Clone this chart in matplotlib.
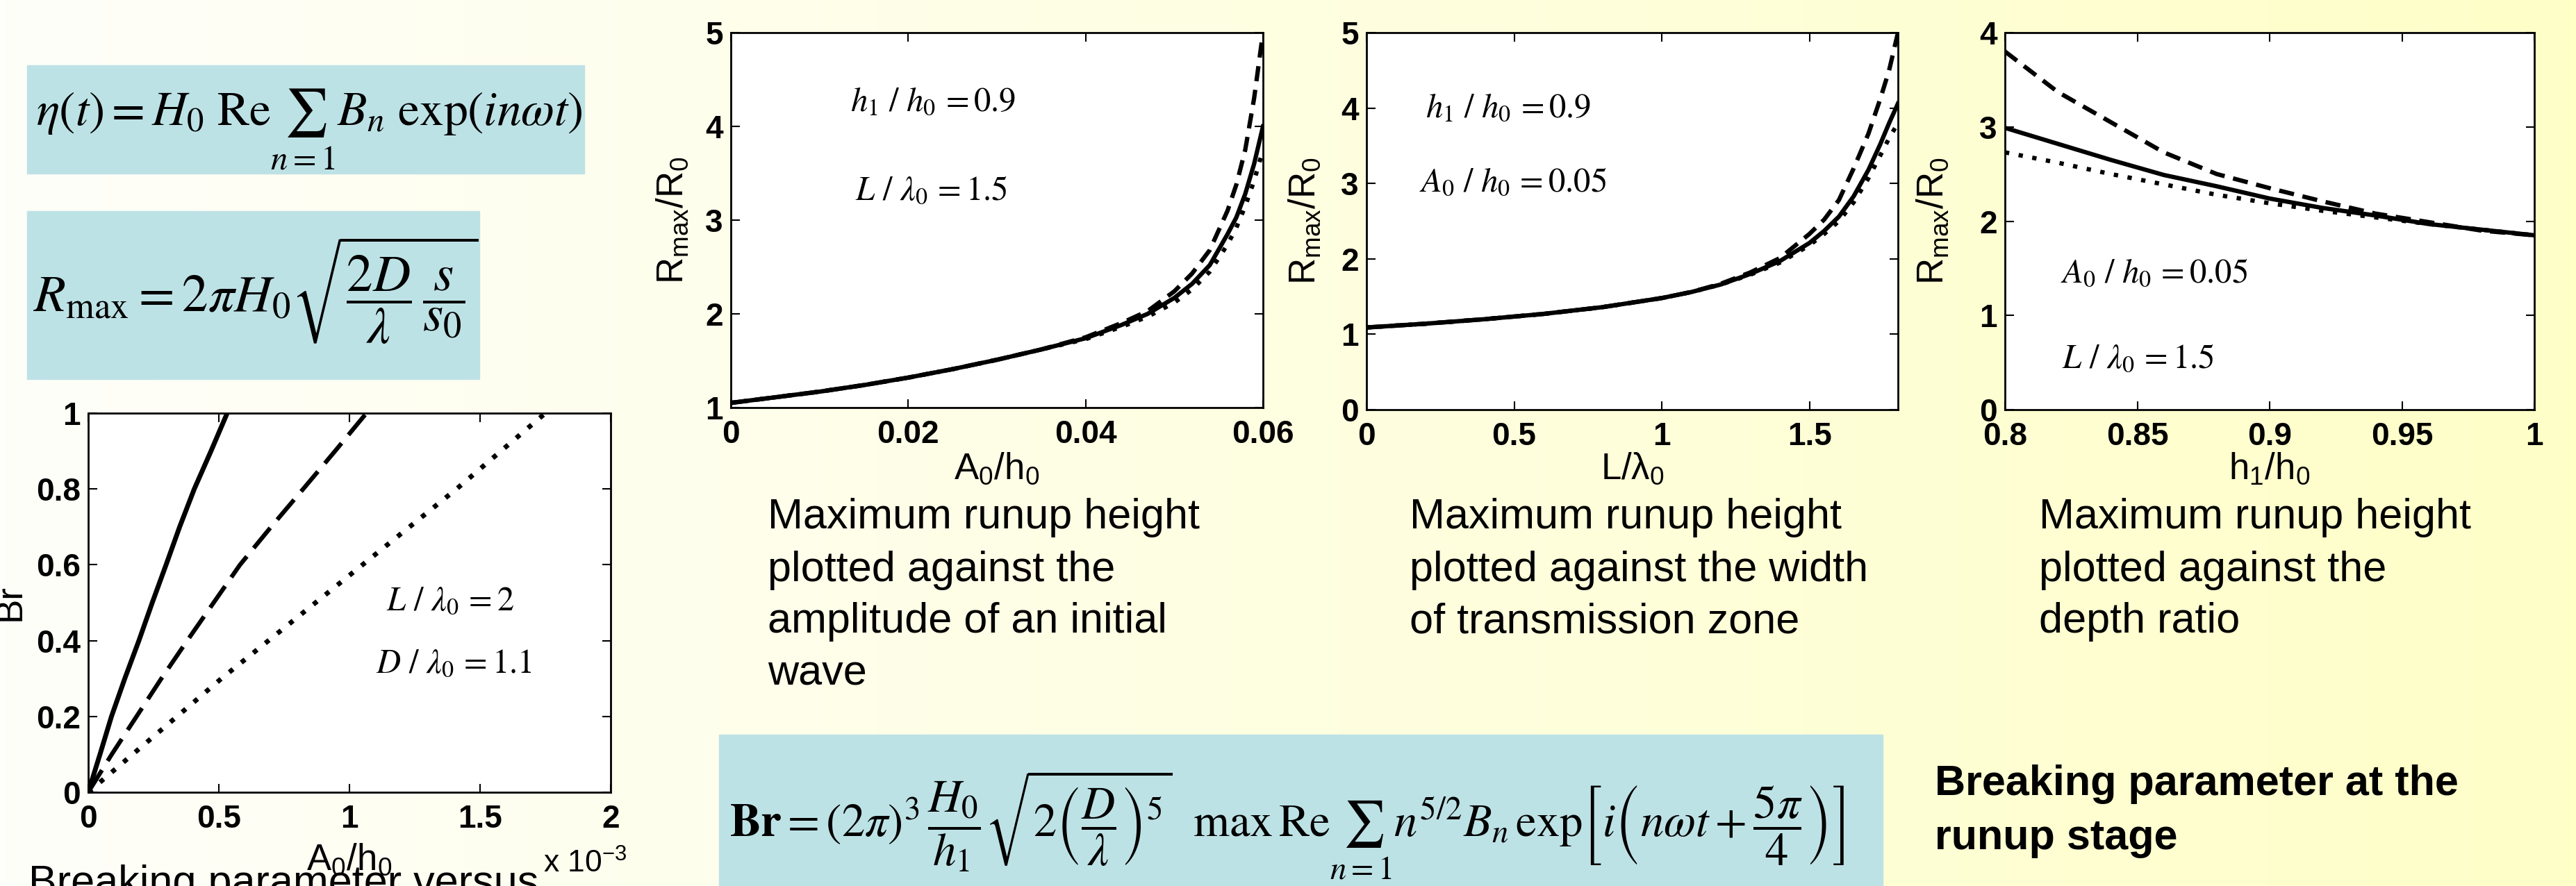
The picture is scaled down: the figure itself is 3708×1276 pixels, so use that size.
import numpy as np
import matplotlib
matplotlib.use("Agg")
import matplotlib.pyplot as plt
from matplotlib.patches import Rectangle

# Slide size in pixels (figure drawn at dpi 100)
W, H = 3708, 1276

plt.rcParams["font.family"] = ["Liberation Sans", "DejaVu Sans"]
plt.rcParams["mathtext.fontset"] = "stix"
plt.rcParams["mathtext.default"] = "regular"

# ---- data ----
# Br against A0/h0 (x in units of 1e-3)
br_y = [0, 0.1, 0.2, 0.3, 0.4, 0.5, 0.6, 0.7, 0.8, 0.9, 1.0]
br_solid_x = [0, 0.045, 0.089, 0.14, 0.194, 0.245, 0.298, 0.35, 0.406, 0.47, 0.532]
br_dash_x = [0, 0.09, 0.185, 0.28, 0.379, 0.48, 0.581, 0.70, 0.823, 0.945, 1.065]
br_dot_x = [0, 0.17, 0.34, 0.51, 0.69, 0.87, 1.05, 1.23, 1.41, 1.58, 1.75]

# Rmax/R0 against A0/h0
amp_x = [0, 0.005, 0.01, 0.015, 0.02, 0.025, 0.03, 0.035, 0.04, 0.044,
         0.047, 0.05, 0.052, 0.054, 0.056, 0.057, 0.058, 0.059, 0.06]
amp_solid = [1.05, 1.11, 1.17, 1.24, 1.32, 1.41, 1.51, 1.62, 1.74, 1.88,
             2.00, 2.17, 2.32, 2.52, 2.85, 3.03, 3.28, 3.60, 4.00]
amp_dash = [1.05, 1.11, 1.17, 1.24, 1.32, 1.41, 1.51, 1.62, 1.75, 1.90,
            2.03, 2.24, 2.43, 2.68, 3.10, 3.38, 3.75, 4.30, 5.00]
amp_dot = [1.05, 1.11, 1.17, 1.24, 1.32, 1.41, 1.51, 1.62, 1.73, 1.86,
           1.97, 2.12, 2.26, 2.45, 2.74, 2.92, 3.15, 3.42, 3.75]

# Rmax/R0 against L/lambda0
wid_x = [0, 0.2, 0.4, 0.6, 0.8, 1.0, 1.1, 1.2, 1.3, 1.4, 1.5, 1.55, 1.6,
         1.65, 1.7, 1.74, 1.77, 1.8]
wid_solid = [1.09, 1.14, 1.20, 1.27, 1.36, 1.48, 1.56, 1.66, 1.80, 1.97,
             2.21, 2.37, 2.56, 2.83, 3.18, 3.52, 3.80, 4.06]
wid_dash = [1.09, 1.14, 1.20, 1.27, 1.36, 1.48, 1.56, 1.67, 1.82, 2.01,
            2.33, 2.52, 2.78, 3.20, 3.66, 4.12, 4.50, 5.00]
wid_dot = [1.09, 1.14, 1.20, 1.27, 1.36, 1.48, 1.56, 1.66, 1.79, 1.95,
           2.18, 2.33, 2.50, 2.75, 3.07, 3.37, 3.60, 3.80]

# Rmax/R0 against h1/h0
dep_x = [0.8, 0.82, 0.84, 0.86, 0.88, 0.9, 0.92, 0.94, 0.96, 0.98, 1.0]
dep_solid = [2.99, 2.82, 2.65, 2.49, 2.37, 2.24, 2.14, 2.06, 1.97, 1.91, 1.85]
dep_dash = [3.80, 3.37, 3.05, 2.73, 2.50, 2.35, 2.21, 2.08, 1.99, 1.90, 1.85]
dep_dot = [2.73, 2.62, 2.50, 2.39, 2.28, 2.19, 2.11, 2.04, 1.97, 1.91, 1.85]

# tick labels
br_xt = ["0", "0.5", "1", "1.5", "2"]
br_yt = ["0", "0.2", "0.4", "0.6", "0.8", "1"]
amp_xt = ["0", "0.02", "0.04", "0.06"]
wid_xt = ["0", "0.5", "1", "1.5"]
dep_xt = ["0.8", "0.85", "0.9", "0.95", "1"]

captions = {
    "amp": ["Maximum runup height", "plotted against the",
            "amplitude of an initial", "wave"],
    "wid": ["Maximum runup height", "plotted against the width",
            "of transmission zone"],
    "dep": ["Maximum runup height", "plotted against the", "depth ratio"],
}


fig = plt.figure(figsize=(W / 100, H / 100), dpi=100)

# background: white to pale yellow gradient, in pixel coordinates
bg = fig.add_axes([0, 0, 1, 1], zorder=-5)
g = np.linspace(0, 1, 400)[None, :, None]
left = np.array([254, 254, 250]) / 255
right = np.array([255, 255, 200]) / 255
bg.imshow(left + (right - left) * g, aspect="auto", extent=[0, W, H, 0])
bg.set_xlim(0, W)
bg.set_ylim(H, 0)
bg.axis("off")

box_col = "#bde2e6"
bg.add_patch(Rectangle((39, 94), 802, 156, color=box_col))
bg.add_patch(Rectangle((39, 304), 651, 242, color=box_col))
bg.add_patch(Rectangle((1035, 1058), 1675, 230, color=box_col))

serif = "STIXGeneral"
bg.text(52, 180, r"$\mathit{\eta}(\mathit{t}) = \mathit{H}_0\ \mathrm{Re}\sum_{\mathit{n}=1}"
        r"\mathit{B}_\mathit{n}\ \mathrm{exp}(\mathit{in\omega t})$",
        fontsize=50, family=serif, va="baseline")
bg.text(48, 448, r"$\mathit{R}_{max} = 2\mathit{\pi H}_0"
        r"\sqrt{\dfrac{2\mathit{D}}{\mathit{\lambda}}\,\dfrac{\mathit{s}}{\mathit{s}_0}}$",
        fontsize=54, family=serif, va="baseline")
bg.text(1050, 1205, r"$\mathbf{Br} = (2\mathit{\pi})^3\,\dfrac{\mathit{H}_0}{\mathit{h}_1}"
        r"\sqrt{2\left(\dfrac{\mathit{D}}{\mathit{\lambda}}\right)^5}\ \ max\,Re"
        r"\sum_{\mathit{n}=1}\mathit{n}^{5/2}\mathit{B}_\mathit{n}\,exp"
        r"\left[\mathit{i}\left(\mathit{n\omega t}+\dfrac{5\mathit{\pi}}{4}\right)\right]$",
        fontsize=48, family=serif, va="baseline")

# plain captions
cap_x = {"amp": 1105, "wid": 2029, "dep": 2935}
for key, lines in captions.items():
    for i, line in enumerate(lines):
        bg.text(cap_x[key], 746 + 75 * i, line, fontsize=44, va="center")
bg.text(2785, 1130, "Breaking parameter at the", fontsize=44,
        fontweight="bold", va="center")
bg.text(2785, 1207, "runup stage", fontsize=44, fontweight="bold", va="center")
bg.text(41, 1245, "Breaking parameter versus", fontsize=44, va="top")


def px_rect(box):
    x0, y0, x1, y1 = box
    return [x0 / W, 1 - y1 / H, (x1 - x0) / W, (y1 - y0) / H]


def frac(box, px, py):
    x0, y0, x1, y1 = box
    return (px - x0) / (x1 - x0), (y1 - py) / (y1 - y0)


def make_axes(box, xlim, ylim, xticks, xtl, yticks, ytl):
    ax = fig.add_axes(px_rect(box))
    ax.set_facecolor("white")
    ax.set_xlim(xlim)
    ax.set_ylim(ylim)
    ax.set_xticks(xticks)
    ax.set_xticklabels(xtl, fontsize=33, fontweight="bold")
    ax.set_yticks(yticks)
    ax.set_yticklabels(ytl, fontsize=33, fontweight="bold")
    ax.tick_params(direction="in", top=True, right=True, length=9, width=1.5)
    ax.tick_params(axis="x", pad=12)
    ax.tick_params(axis="y", pad=8)
    for s in ax.spines.values():
        s.set_linewidth(2)
    return ax


def set_labels(ax, box, xl, xpos, yl, ypos):
    ax.set_xlabel(xl, fontsize=38, va="center")
    ax.xaxis.set_label_coords(*frac(box, *xpos))
    ax.set_ylabel(yl, fontsize=38, va="center")
    ax.yaxis.set_label_coords(*frac(box, *ypos))


long_dash = (0, (6, 2.5))
dash = (0, (3.5, 2))
dots = (0, (1, 2.2))
ann = dict(fontsize=35, family=serif, va="center")

# Breaking parameter
b1 = (127, 595, 879, 1141)
ax1 = make_axes(b1, (0, 2), (0, 1), [0, 0.5, 1, 1.5, 2], br_xt,
                [0, 0.2, 0.4, 0.6, 0.8, 1], br_yt)
ax1.plot(br_solid_x, br_y, "k-", lw=5)
ax1.plot(br_dash_x, br_y, "k", ls=long_dash, lw=4.5)
ax1.plot(br_dot_x, br_y, "k", ls=dots, lw=5)
ax1.text(1.14, 0.5, r"$\mathit{L}\ /\ \mathit{\lambda}_0\,=2$", **ann)
ax1.text(1.10, 0.336, r"$\mathit{D}\ /\ \mathit{\lambda}_0\,=1.1$", **ann)
set_labels(ax1, b1, r"A$_0$/h$_0$", (503, 1238), "Br", (15, 868))
bg.text(782, 1244, r"x 10$^{-3}$", fontsize=32, va="center")

# Rmax vs amplitude
b2 = (1052, 47, 1818, 587)
ax2 = make_axes(b2, (0, 0.06), (1, 5), [0, 0.02, 0.04, 0.06], amp_xt,
                [1, 2, 3, 4, 5], ["1", "2", "3", "4", "5"])
ax2.plot(amp_x, amp_solid, "k-", lw=4.5)
ax2.plot(amp_x, amp_dash, "k", ls=dash, lw=4.5)
ax2.plot(amp_x, amp_dot, "k", ls=dots, lw=4.5)
ax2.text(0.0135, 4.25, r"$\mathit{h}_1\ /\ \mathit{h}_0\,=0.9$", **ann)
ax2.text(0.014, 3.3, r"$\mathit{L}\ /\ \mathit{\lambda}_0\,=1.5$", **ann)
set_labels(ax2, b2, r"A$_0$/h$_0$", (1435, 675), r"R$_{max}$/R$_0$", (968, 317))

# Rmax vs width of transmission zone
b3 = (1967, 47, 2732, 590)
ax3 = make_axes(b3, (0, 1.8), (0, 5), [0, 0.5, 1, 1.5], wid_xt,
                [0, 1, 2, 3, 4, 5], ["0", "1", "2", "3", "4", "5"])
ax3.plot(wid_x, wid_solid, "k-", lw=4.5)
ax3.plot(wid_x, wid_dash, "k", ls=dash, lw=4.5)
ax3.plot(wid_x, wid_dot, "k", ls=dots, lw=4.5)
ax3.text(0.2, 3.98, r"$\mathit{h}_1\ /\ \mathit{h}_0\,=0.9$", **ann)
ax3.text(0.18, 3.0, r"$\mathit{A}_0\ /\ \mathit{h}_0\,=0.05$", **ann)
set_labels(ax3, b3, "L/λ$_0$", (2350, 675), r"R$_{max}$/R$_0$", (1878, 318))

# Rmax vs depth ratio
b4 = (2886, 47, 3648, 590)
ax4 = make_axes(b4, (0.8, 1.0), (0, 4), [0.8, 0.85, 0.9, 0.95, 1.0], dep_xt,
                [0, 1, 2, 3, 4], ["0", "1", "2", "3", "4"])
ax4.plot(dep_x, dep_solid, "k-", lw=4.5)
ax4.plot(dep_x, dep_dash, "k", ls=dash, lw=4.5)
ax4.plot(dep_x, dep_dot, "k", ls=dots, lw=4.5)
ax4.text(0.821, 1.43, r"$\mathit{A}_0\ /\ \mathit{h}_0\,=0.05$", **ann)
ax4.text(0.8215, 0.53, r"$\mathit{L}\ /\ \mathit{\lambda}_0\,=1.5$", **ann)
set_labels(ax4, b4, r"h$_1$/h$_0$", (3267, 675), r"R$_{max}$/R$_0$", (2782, 318))

fig.savefig("out.png", dpi=100)
